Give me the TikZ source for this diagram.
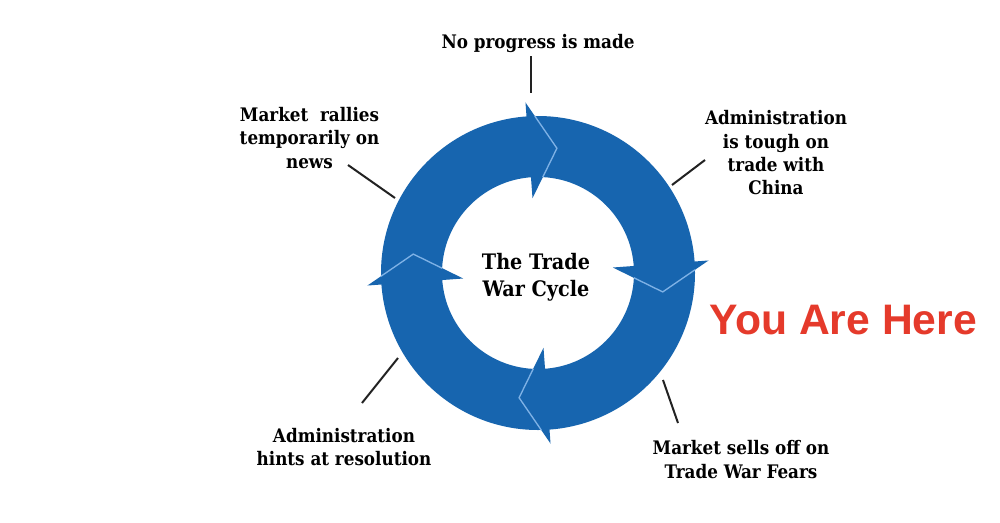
\documentclass[tikz,border=0pt]{standalone}
\usepackage{fontspec}
\setmainfont{DejaVu Serif Condensed}
\newfontfamily\redsans{Liberation Sans}
\definecolor{ringblue}{HTML}{1765AF}
\definecolor{edgeblue}{HTML}{7FB2E6}
\definecolor{herered}{HTML}{E53A2B}
\definecolor{leadgray}{HTML}{222222}
\tikzset{
  lbl/.style={font=\bfseries\fontsize{14}{17.5}\selectfont, align=center, inner sep=0pt, text=black},
  ctr/.style={font=\bfseries\fontsize{16}{20}\selectfont, align=center, inner sep=0pt, text=black},
  leader/.style={draw=leadgray, line width=1.5pt},
  arrowhd/.style={fill=ringblue},
  frontedge/.style={draw=edgeblue, line width=1pt, line join=miter},
}
\begin{document}
\begin{tikzpicture}[x=0.75pt,y=-0.75pt]
\useasboundingbox (0,0) rectangle (1000,522);
\fill[white] (0,0) rectangle (1000,522);
% ring
\begin{scope}[shift={(538,273)}, yscale=-1]
  \fill[ringblue, even odd rule] (0,0) circle (157) (0,0) circle (96);
  \foreach \r in {-4.2,85.8,175.8,265.8}{
    \begin{scope}[rotate=\r]
      \fill[arrowhd] (0,75) -- (0,171) -- (28,123) -- cycle;
      \draw[frontedge] (8.3,156.8) -- (28,123) -- (11.8,95.3);
    \end{scope}
  }
\end{scope}
% texts
\node[ctr] (center) at (536,277.5) {The Trade\\War Cycle};
\node[lbl, anchor=base] (top) at (538,48.3) {No progress is made};
\node[lbl] (tr) at (776,153) {Administration\\is tough on\\trade with\\China};
\node[lbl] (tl) at (309.5,138) {Market\ \ rallies\\temporarily on\\news};
\node[lbl] (bl) at (344,447) {Administration\\hints at resolution};
\node[lbl] (br) at (741,459.5) {Market sells off on\\Trade War Fears};
\node[anchor=base, inner sep=0pt, text=herered, font=\redsans\bfseries\fontsize{32}{36}\selectfont] (here) at (843.5,334) {You Are Here};
% leader lines
\coordinate (t1) at (531,56); \coordinate (t2) at (531,93);
\coordinate (tl1) at (348,165); \coordinate (tl2) at (395,198);
\coordinate (tr1) at (705,160); \coordinate (tr2) at (672,185);
\coordinate (bl1) at (398,358); \coordinate (bl2) at (362,403);
\coordinate (br1) at (663,380); \coordinate (br2) at (678,423);
\draw[leader] (t1) -- (t2);
\draw[leader] (tl1) -- (tl2);
\draw[leader] (tr1) -- (tr2);
\draw[leader] (bl1) -- (bl2);
\draw[leader] (br1) -- (br2);
\end{tikzpicture}
\end{document}
